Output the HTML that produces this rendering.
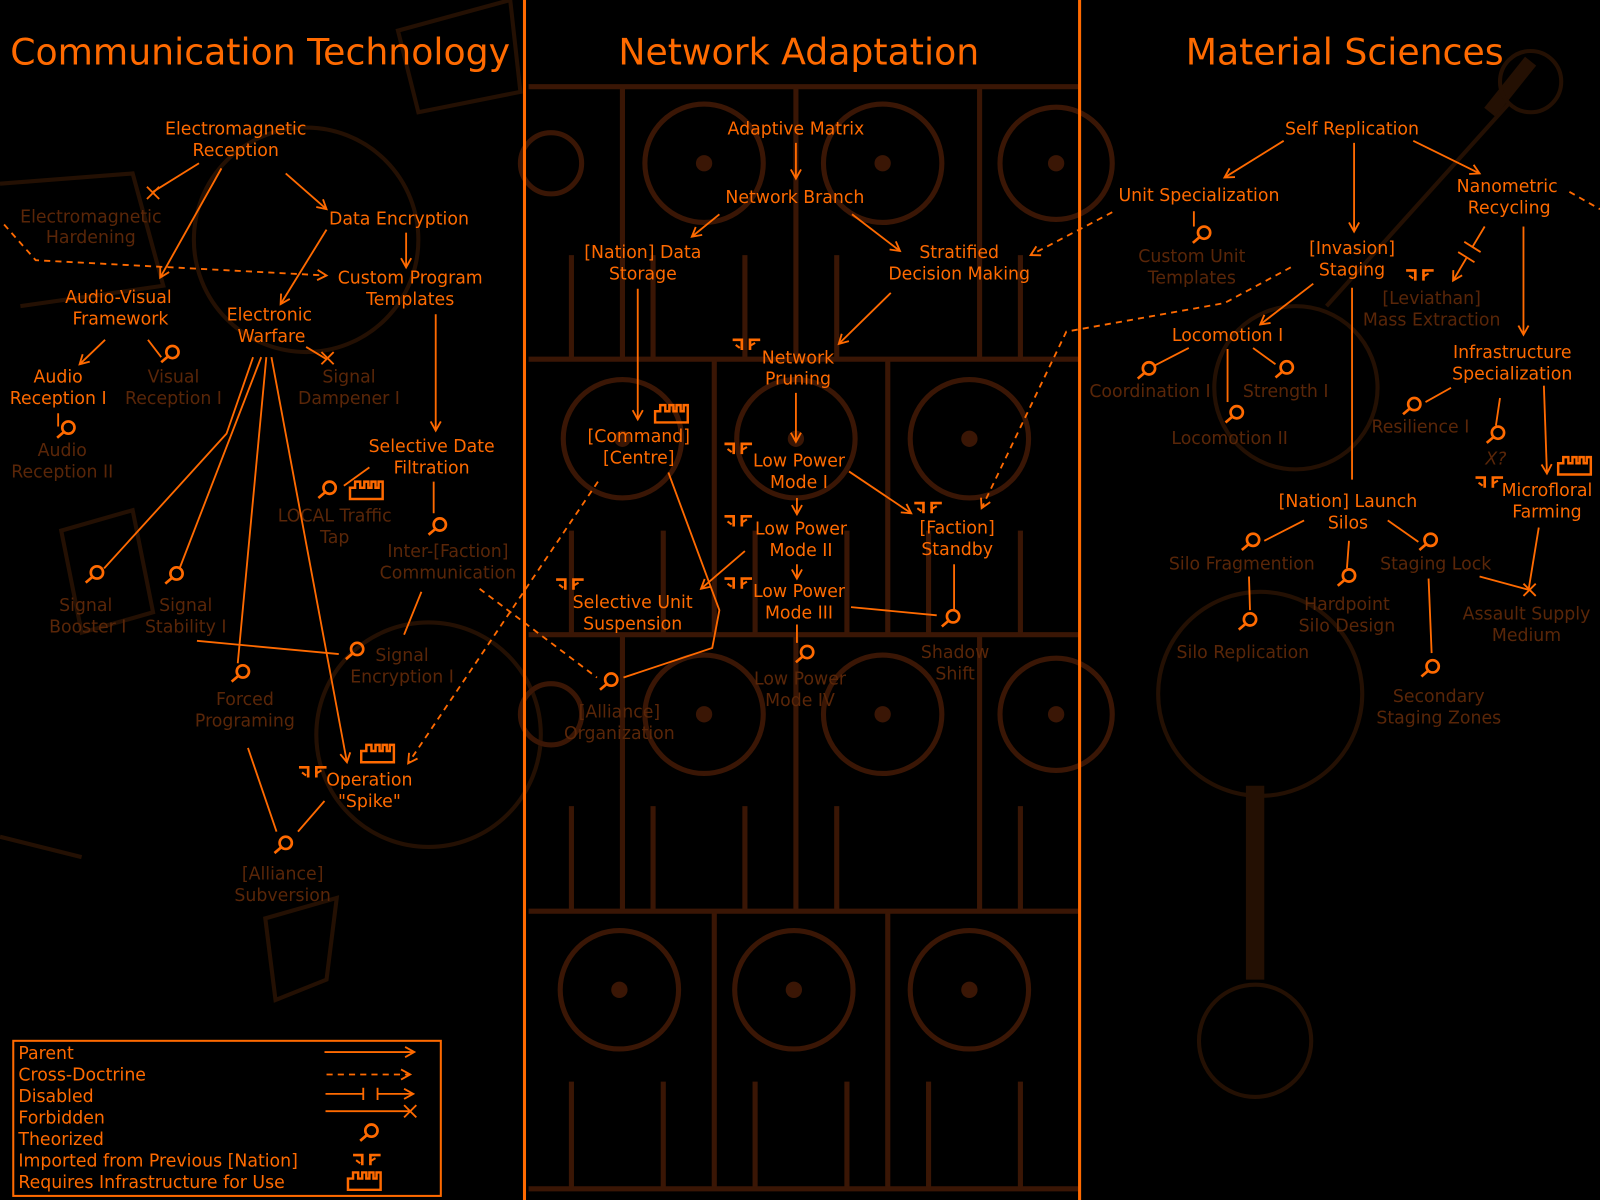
<!DOCTYPE html>
<html><head><meta charset="utf-8"><style>
html,body{margin:0;padding:0;background:#000;}
svg{display:block}
text{font-family:"DejaVu Sans","Liberation Sans",sans-serif;}
.t{fill:#ff6a00;font-size:17px;text-anchor:middle}
.d{fill:#5a2608;font-size:17px;text-anchor:middle}
.h{fill:#ff6a00;font-size:35.5px}
.l{stroke:#ff6a00;stroke-width:1.8;fill:none}
.a{stroke:#ff6a00;stroke-width:1.8;fill:none;marker-end:url(#ar)}
.da{stroke:#ff6a00;stroke-width:1.8;fill:none;stroke-dasharray:6 5;marker-end:url(#ar)}
.bg{stroke:#3a1605;stroke-width:5;fill:none}
.bg2{stroke:#241003;stroke-width:4;fill:none}
</style></head><body>
<svg width="1600" height="1200" viewBox="0 0 1568 1176" xmlns="http://www.w3.org/2000/svg">
<defs>
<marker id="ar" markerWidth="12" markerHeight="12" refX="10" refY="6" orient="auto" markerUnits="userSpaceOnUse">
<path d="M1,1 L10,6 L1,11" fill="none" stroke="#ff6a00" stroke-width="1.8"/></marker>
<g id="th"><circle cx="2" cy="-2" r="6" fill="none" stroke="#ff6a00" stroke-width="2.6"/><path d="M-2,2 L-9,8" stroke="#ff6a00" stroke-width="2.6"/></g>
<g id="im"><path d="M-14,-5 H-5 V5" fill="none" stroke="#ff6a00" stroke-width="2.6"/><path d="M-11,0 L-7,3" stroke="#ff6a00" stroke-width="2"/><path d="M13,-5 H3 V5" fill="none" stroke="#ff6a00" stroke-width="2.6"/><path d="M3,1 L8,-2" stroke="#ff6a00" stroke-width="2"/></g>
<g id="inf"><path d="M-16,9 V-2 H-11 V-8 H-6 V-2 H-2 V-8 H2 V-2 H5 V-8 H9 V-2 H12 V-8 H16 V9 Z" fill="none" stroke="#ff6a00" stroke-width="2.4"/></g>
<g id="x"><path d="M-6,-6 L6,6 M6,-6 L-6,6" stroke="#ff6a00" stroke-width="1.8"/></g>
</defs>
<rect width="1568" height="1176" fill="#000"/>
<!-- background sketches -->
<g class="bg2">
<circle cx="300" cy="235" r="110"/><circle cx="420" cy="720" r="110"/><path d="M0,180 L130,170 L160,280 L20,300"/>
<path d="M390,30 L500,0 L510,90 L410,110 Z"/><path d="M60,520 L130,500 L150,600 L80,620 Z"/><path d="M260,900 L330,880 L320,960 L270,980 Z"/>
<path d="M0,820 L80,840"/><path d="M1460,110 L1500,60" stroke-width="14"/><circle cx="1500" cy="80" r="30"/>
<circle cx="1270" cy="380" r="80"/><circle cx="1235" cy="680" r="100"/><path d="M1230,770 L1230,960" stroke-width="18"/><circle cx="1230" cy="1020" r="55"/>
<path d="M1300,300 L1480,100"/>
</g>
<g class="bg">
<path d="M518,85 H1058 M518,352 H1058 M518,622 H1058 M518,893 H1058 M518,1165 H1058"/>
<path d="M610,85 V352 M780,85 V352 M960,85 V352 M700,352 V622 M870,352 V622 M610,622 V893 M780,622 V893 M960,622 V893 M700,893 V1165 M870,893 V1165"/>
<path d="M560,250 V352 M640,250 V352 M730,250 V352 M820,250 V352 M1000,250 V352 M560,520 V622 M650,520 V622 M740,520 V622 M830,520 V622 M910,520 V622 M1000,520 V622 M560,790 V893 M640,790 V893 M730,790 V893 M820,790 V893 M1000,790 V893 M560,1060 V1165 M650,1060 V1165 M740,1060 V1165 M830,1060 V1165 M910,1060 V1165 M1000,1060 V1165"/>
<circle cx="690" cy="160" r="58"/><circle cx="865" cy="160" r="58"/><circle cx="1035" cy="160" r="55"/><circle cx="540" cy="160" r="30"/>
<circle cx="610" cy="430" r="58"/><circle cx="780" cy="430" r="58"/><circle cx="950" cy="430" r="58"/>
<circle cx="690" cy="700" r="58"/><circle cx="865" cy="700" r="58"/><circle cx="1035" cy="700" r="55"/><circle cx="540" cy="700" r="30"/>
<circle cx="607" cy="970" r="58"/><circle cx="778" cy="970" r="58"/><circle cx="950" cy="970" r="58"/>
</g>
<g fill="#3a1605"><circle cx="690" cy="160" r="8"/><circle cx="865" cy="160" r="8"/><circle cx="1035" cy="160" r="8"/><circle cx="610" cy="430" r="8"/><circle cx="780" cy="430" r="8"/><circle cx="950" cy="430" r="8"/><circle cx="690" cy="700" r="8"/><circle cx="865" cy="700" r="8"/><circle cx="1035" cy="700" r="8"/><circle cx="607" cy="970" r="8"/><circle cx="778" cy="970" r="8"/><circle cx="950" cy="970" r="8"/></g>
<path d="M514,0 V1176 M1058,0 V1176" stroke="#ff6a00" stroke-width="3"/>

<text class="h" x="10" y="63">Communication Technology</text>
<text class="h" x="606" y="63">Network Adaptation</text>
<text class="h" x="1162" y="63">Material Sciences</text>

<!-- LEFT nodes -->
<text class="t" x="231" y="132">Electromagnetic</text><text class="t" x="231" y="153">Reception</text>
<text class="d" x="89" y="218">Electromagnetic</text><text class="d" x="89" y="238">Hardening</text>
<text class="t" x="391" y="220">Data Encryption</text>
<text class="t" x="402" y="278">Custom Program</text><text class="t" x="402" y="299">Templates</text>
<text class="t" x="116" y="297">Audio-Visual</text><text class="t" x="118" y="318">Framework</text>
<text class="t" x="264" y="314">Electronic</text><text class="t" x="266" y="335">Warfare</text>
<text class="t" x="57" y="375">Audio</text><text class="t" x="57" y="396">Reception I</text>
<text class="d" x="170" y="375">Visual</text><text class="d" x="170" y="396">Reception I</text>
<text class="d" x="342" y="375">Signal</text><text class="d" x="342" y="396">Dampener I</text>
<text class="d" x="61" y="447">Audio</text><text class="d" x="61" y="468">Reception II</text>
<text class="t" x="423" y="443">Selective Date</text><text class="t" x="423" y="464">Filtration</text>
<text class="d" x="328" y="511">LOCAL Traffic</text><text class="d" x="328" y="532">Tap</text>
<text class="d" x="439" y="546">Inter-[Faction]</text><text class="d" x="439" y="567">Communication</text>
<text class="d" x="84" y="599">Signal</text><text class="d" x="86" y="620">Booster I</text>
<text class="d" x="182" y="599">Signal</text><text class="d" x="182" y="620">Stability I</text>
<text class="d" x="394" y="648">Signal</text><text class="d" x="394" y="669">Encryption I</text>
<text class="d" x="240" y="691">Forced</text><text class="d" x="240" y="712">Programing</text>
<text class="t" x="362" y="770">Operation</text><text class="t" x="362" y="791">"Spike"</text>
<text class="d" x="277" y="862">[Alliance]</text><text class="d" x="277" y="883">Subversion</text>

<!-- LEFT edges -->
<path class="a" d="M217,165 L157,272"/>
<path class="l" d="M195,160 L150,188"/><use href="#x" x="150" y="189"/>
<path class="a" d="M280,170 L320,205"/>
<path class="a" d="M320,225 L275,298"/>
<path class="a" d="M398,228 L398,262"/>
<path class="da" d="M4,220 L35,255 L320,270"/>
<path class="a" d="M103,333 L78,357"/>
<path class="l" d="M145,333 L158,350"/><use href="#th" x="167" y="347"/>
<path class="l" d="M300,340 L320,352"/><use href="#x" x="321" y="351"/>
<path class="l" d="M57,405 L57,418"/><use href="#th" x="65" y="421"/>
<path class="a" d="M427,308 L427,422"/>
<path class="l" d="M362,458 L337,476"/><use href="#th" x="321" y="480"/><use href="#inf" x="359" y="480"/>
<path class="l" d="M425,472 L425,503"/><use href="#th" x="429" y="516"/>
<path class="l" d="M248,350 L222,425 L102,557"/><use href="#th" x="93" y="563"/>
<path class="l" d="M256,350 L176,557"/><use href="#th" x="171" y="564"/>
<path class="l" d="M261,350 L233,650"/><use href="#th" x="236" y="660"/>
<path class="a" d="M266,350 L340,747"/>
<path class="l" d="M413,580 L396,622"/>
<path class="l" d="M193,628 L332,641"/><use href="#th" x="348" y="638"/>
<path class="l" d="M243,733 L271,815"/><use href="#th" x="278" y="828"/>
<path class="l" d="M318,785 L292,815"/>
<use href="#inf" x="370" y="738"/><use href="#im" x="307" y="757"/>
<path class="da" d="M586,472 L400,748"/>
<path class="l" d="M470,577 L585,664" stroke-dasharray="6 5"/>

<!-- MIDDLE nodes -->
<text class="t" x="780" y="132">Adaptive Matrix</text>
<text class="t" x="779" y="199">Network Branch</text>
<text class="t" x="630" y="253">[Nation] Data</text><text class="t" x="630" y="274">Storage</text>
<text class="t" x="940" y="253">Stratified</text><text class="t" x="940" y="274">Decision Making</text>
<text class="t" x="782" y="356">Network</text><text class="t" x="782" y="377">Pruning</text>
<text class="t" x="626" y="433">[Command]</text><text class="t" x="626" y="454">[Centre]</text>
<text class="t" x="783" y="457">Low Power</text><text class="t" x="783" y="478">Mode I</text>
<text class="t" x="938" y="523">[Faction]</text><text class="t" x="938" y="544">Standby</text>
<text class="t" x="785" y="524">Low Power</text><text class="t" x="785" y="545">Mode II</text>
<text class="t" x="620" y="596">Selective Unit</text><text class="t" x="620" y="617">Suspension</text>
<text class="t" x="783" y="585">Low Power</text><text class="t" x="783" y="606">Mode III</text>
<text class="d" x="936" y="645">Shadow</text><text class="d" x="936" y="666">Shift</text>
<text class="d" x="784" y="671">Low Power</text><text class="d" x="784" y="692">Mode IV</text>
<text class="d" x="607" y="703">[Alliance]</text><text class="d" x="607" y="724">Organization</text>

<!-- MIDDLE edges -->
<path class="a" d="M780,140 L780,175"/>
<path class="a" d="M705,210 L678,232"/>
<path class="a" d="M835,210 L882,246"/>
<path class="a" d="M625,283 L625,411"/><use href="#inf" x="658" y="405"/>
<path class="a" d="M873,287 L822,337"/><use href="#im" x="732" y="338"/>
<path class="a" d="M780,385 L780,433"/><use href="#im" x="724" y="440"/>
<path class="a" d="M832,462 L893,503"/><use href="#im" x="910" y="498"/>
<path class="a" d="M781,488 L781,504"/><use href="#im" x="724" y="511"/>
<path class="a" d="M781,553 L781,567"/>
<path class="a" d="M730,540 L687,577"/><use href="#im" x="559" y="573"/><use href="#im" x="724" y="572"/>
<path class="l" d="M834,595 L918,603"/><use href="#th" x="932" y="606"/>
<path class="l" d="M781,612 L781,630"/><use href="#th" x="789" y="641"/>
<path class="l" d="M935,553 L935,597"/>
<path class="l" d="M655,463 L705,598 L698,635 L611,664"/><use href="#th" x="597" y="668"/>
<path class="da" d="M1090,208 L1010,250"/>
<path class="da" d="M1265,262 L1200,297 L1045,325 L962,498"/>

<!-- RIGHT nodes -->
<text class="t" x="1325" y="132">Self Replication</text>
<text class="t" x="1175" y="197">Unit Specialization</text>
<text class="t" x="1477" y="188">Nanometric</text><text class="t" x="1479" y="209">Recycling</text>
<text class="d" x="1168" y="257">Custom Unit</text><text class="d" x="1168" y="278">Templates</text>
<text class="t" x="1325" y="249">[Invasion]</text><text class="t" x="1325" y="270">Staging</text>
<text class="d" x="1403" y="298">[Leviathan]</text><text class="d" x="1403" y="319">Mass Extraction</text>
<text class="t" x="1203" y="334">Locomotion I</text>
<text class="t" x="1482" y="351">Infrastructure</text><text class="t" x="1482" y="372">Specialization</text>
<text class="d" x="1127" y="389">Coordination I</text>
<text class="d" x="1260" y="389">Strength I</text>
<text class="d" x="1392" y="424">Resilience I</text>
<text class="d" x="1205" y="435">Locomotion II</text>
<text class="d" x="1466" y="455" font-style="italic">X?</text>
<text class="t" x="1516" y="486">Microfloral</text><text class="t" x="1516" y="507">Farming</text>
<text class="t" x="1321" y="497">[Nation] Launch</text><text class="t" x="1321" y="518">Silos</text>
<text class="d" x="1217" y="558">Silo Fragmention</text>
<text class="d" x="1407" y="558">Staging Lock</text>
<text class="d" x="1320" y="598">Hardpoint</text><text class="d" x="1320" y="619">Silo Design</text>
<text class="d" x="1496" y="607">Assault Supply</text><text class="d" x="1496" y="628">Medium</text>
<text class="d" x="1218" y="645">Silo Replication</text>
<text class="d" x="1410" y="688">Secondary</text><text class="d" x="1410" y="709">Staging Zones</text>

<!-- RIGHT edges -->
<path class="a" d="M1258,138 L1200,174"/>
<path class="a" d="M1327,140 L1327,227"/>
<path class="a" d="M1385,138 L1450,170"/>
<path class="l" d="M1170,207 L1170,222"/><use href="#th" x="1178" y="230"/>
<path class="l" d="M1455,222 L1443,242 M1435,237 L1451,247"/>
<path class="a" d="M1437,253 L1424,275"/><path class="l" d="M1429,247 L1445,257"/>
<path class="a" d="M1493,222 L1493,328"/>
<use href="#im" x="1392" y="270"/>
<path class="a" d="M1287,278 L1235,318"/>
<path class="l" d="M1325,282 L1325,470"/>
<path class="l" d="M1165,341 L1132,358"/><use href="#th" x="1124" y="363"/>
<path class="l" d="M1228,341 L1250,357"/><use href="#th" x="1259" y="362"/>
<path class="l" d="M1203,342 L1203,394"/><use href="#th" x="1210" y="406"/>
<path class="l" d="M1422,380 L1397,394"/><use href="#th" x="1384" y="398"/>
<path class="l" d="M1470,390 L1466,417"/><use href="#th" x="1466" y="426"/>
<path class="a" d="M1513,378 L1516,464"/><use href="#inf" x="1543" y="456"/><use href="#im" x="1460" y="473"/>
<path class="l" d="M1508,517 L1498,578 M1450,565 L1498,578"/><use href="#x" x="1499" y="578"/>
<path class="l" d="M1278,510 L1239,530"/><use href="#th" x="1226" y="531"/>
<path class="l" d="M1360,510 L1390,531"/><use href="#th" x="1400" y="531"/>
<path class="l" d="M1322,530 L1320,557"/><use href="#th" x="1320" y="566"/>
<path class="l" d="M1224,565 L1225,598"/><use href="#th" x="1223" y="609"/>
<path class="l" d="M1400,567 L1403,640"/><use href="#th" x="1402" y="655"/>
<path class="l" d="M1538,188 L1568,205" stroke-dasharray="6 5"/>

<!-- LEGEND -->
<rect x="13" y="1020" width="419" height="152" fill="none" stroke="#ff6a00" stroke-width="2"/>
<g fill="#ff6a00" font-size="17">
<text x="18" y="1038">Parent</text>
<text x="18" y="1059">Cross-Doctrine</text>
<text x="18" y="1080">Disabled</text>
<text x="18" y="1101">Forbidden</text>
<text x="18" y="1122">Theorized</text>
<text x="18" y="1143">Imported from Previous [Nation]</text>
<text x="18" y="1164">Requires Infrastructure for Use</text>
</g>
<path class="a" d="M318,1031 L406,1031"/>
<path class="da" d="M320,1053 L402,1053"/>
<path class="l" d="M319,1072 L356,1072 M356,1066 V1078 M370,1066 V1078"/><path class="a" d="M370,1072 L405,1072"/>
<path class="l" d="M319,1089 L402,1089"/><use href="#x" x="402" y="1089"/>
<use href="#th" x="362" y="1110"/>
<use href="#im" x="360" y="1137"/>
<use href="#inf" x="357" y="1157"/>
</svg>
</body></html>
